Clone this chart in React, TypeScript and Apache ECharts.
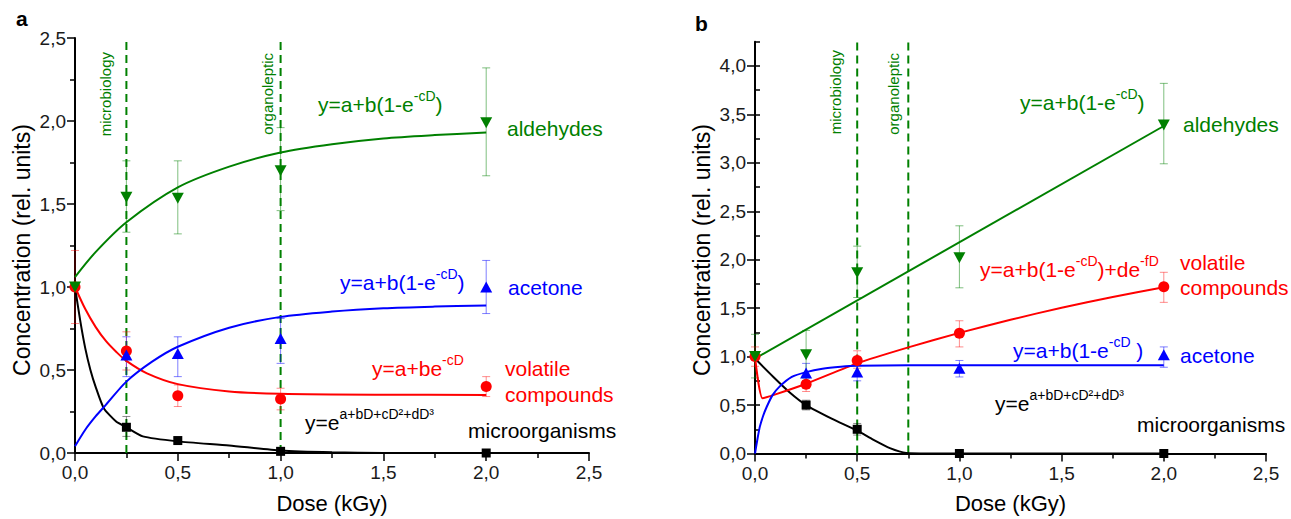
import React, { useEffect, useRef } from 'react';
import * as echarts from 'echarts';

const FONT = '"Liberation Sans", Arial, Helvetica, sans-serif';
const GREEN = '#008000';
const BLUE = '#0000ff';
const RED = '#ff0000';
const BLACK = '#000000';

// ---- shared ----
const DOSES = [0, 0.25, 0.5, 1.0, 2.0];
const Y_TICKS_B = [0, 0.5, 1.0, 1.5, 2.0, 2.5, 3.0, 3.5, 4.0];
const A_THRESH = [0.25, 1.0];
const B_THRESH = [0.5, 0.75];

// ---- panel a : measured points ----
const A_ALD = [1.0, 1.54, 1.535, 1.7, 1.99];
const A_ALD_LO = [1.0, 1.33, 1.32, 1.46, 1.67];
const A_ALD_HI = [1.0, 1.76, 1.76, 1.96, 2.32];
const A_ACE = [null, 0.59, 0.6, 0.69, 1.0];
const A_ACE_LO = [1.0, 0.46, 0.46, 0.54, 0.84];
const A_ACE_HI = [1.0, 0.7, 0.7, 0.81, 1.16];
const A_VOL = [1.0, 0.615, 0.345, 0.325, 0.4];
const A_VOL_LO = [0.78, 0.5, 0.28, 0.26, 0.34];
const A_VOL_HI = [1.22, 0.73, 0.41, 0.39, 0.46];
const A_MIC = [null, 0.155, 0.075, 0.01, 0.0];
const A_MIC_LO = [1.0, 0.1, 0.06, 0.0, 0.0];
const A_MIC_HI = [1.0, 0.22, 0.09, 0.02, 0.0];

// ---- panel a : fitted curves ----
const A_ALD_FIT_X = [0, 0.1, 0.25, 0.5, 0.75, 1.0, 1.25, 1.5, 1.75, 2.0];
const A_ALD_FIT_Y = [1.06, 1.21, 1.39, 1.6, 1.725, 1.81, 1.86, 1.895, 1.915, 1.93];
const A_ACE_FIT_X = [0, 0.05, 0.1, 0.15, 0.25, 0.375, 0.5, 0.75, 1.0, 1.25, 1.5, 1.75, 2.0];
const A_ACE_FIT_Y = [0.04, 0.14, 0.22, 0.29, 0.43, 0.55, 0.64, 0.755, 0.82, 0.852, 0.872, 0.882, 0.888];
const A_VOL_FIT_X = [0, 0.05, 0.1, 0.15, 0.2, 0.25, 0.35, 0.5, 0.75, 1.0, 1.5, 2.0];
const A_VOL_FIT_Y = [1.0, 0.867, 0.76, 0.675, 0.61, 0.555, 0.48, 0.415, 0.371, 0.357, 0.351, 0.35];
const A_MIC_FIT_X = [0, 0.025, 0.05, 0.075, 0.1, 0.14, 0.2, 0.25, 0.33, 0.5, 0.75, 1.0, 1.25, 1.5, 2.0];
const A_MIC_FIT_Y = [1.0, 0.8, 0.63, 0.5, 0.4, 0.27, 0.19, 0.155, 0.1, 0.07, 0.045, 0.015, 0.004, 0.0, 0.0];

// ---- panel b : measured points ----
const B_ALD = [1.0, 1.02, 1.865, 2.02, 3.39];
const B_ALD_LO = [0.78, 0.78, 1.61, 1.71, 2.99];
const B_ALD_HI = [1.23, 1.27, 2.14, 2.35, 3.82];
const B_ACE = [null, 0.83, 0.84, 0.88, 1.02];
const B_ACE_LO = [1.0, 0.75, 0.75, 0.79, 0.89];
const B_ACE_HI = [1.0, 0.93, 0.92, 0.96, 1.1];
const B_VOL = [1.0, 0.715, 0.96, 1.24, 1.72];
const B_VOL_LO = [0.9, 0.64, 0.88, 1.1, 1.56];
const B_VOL_HI = [1.1, 0.79, 1.06, 1.37, 1.87];
const B_MIC = [null, 0.5, 0.25, 0.0, 0.0];
const B_MIC_LO = [1.0, 0.45, 0.19, 0.0, 0.0];
const B_MIC_HI = [1.0, 0.55, 0.31, 0.0, 0.0];

// ---- panel b : fitted curves ----
const B_ALD_FIT_X = [0, 2.0];
const B_ALD_FIT_Y = [0.98, 3.38];
const B_VOL_FIT_X = [0, 0.037, 0.1, 0.25, 0.5, 0.75, 1.0, 1.25, 1.5, 1.75, 2.0];
const B_VOL_FIT_Y = [1.0, 0.57, 0.61, 0.72, 0.93, 1.095, 1.245, 1.38, 1.505, 1.615, 1.715];
const B_ACE_FIT_X = [0, 0.012, 0.024, 0.04, 0.057, 0.085, 0.12, 0.18, 0.25, 0.33, 0.42, 0.5, 0.75, 1.0, 1.5, 2.0];
const B_ACE_FIT_Y = [0.0, 0.15, 0.28, 0.39, 0.48, 0.6, 0.69, 0.79, 0.84, 0.875, 0.895, 0.905, 0.91, 0.91, 0.91, 0.91];
const B_MIC_FIT_X = [0, 0.09, 0.17, 0.25, 0.375, 0.5, 0.58, 0.66, 0.74, 0.85, 1.0, 1.5, 2.0];
const B_MIC_FIT_Y = [0.98, 0.79, 0.63, 0.5, 0.36, 0.235, 0.14, 0.055, 0.005, 0.0, 0.0, 0.0, 0.0];

const zip = (xs: number[], ys: any[]) => xs.map((x, i) => [x, ys[i]]);

function fitLine(xs: number[], ys: number[], color: string, xi: number, yi: number, smooth: number | false = 0.3) {
  return {
    type: 'line', xAxisIndex: xi, yAxisIndex: yi, data: zip(xs, ys),
    symbol: 'none', showSymbol: false, smooth,
    lineStyle: { color, width: 2 }, z: 3, silent: true,
  };
}

function markers(ys: any[], color: string, symbol: string, size: any, rotate: number, xi: number, yi: number, z: number) {
  return {
    type: 'scatter', xAxisIndex: xi, yAxisIndex: yi,
    data: zip(DOSES, ys).filter((d) => d[1] !== null),
    symbol, symbolSize: size, symbolRotate: rotate, itemStyle: { color, opacity: 1 }, z, silent: true,
  };
}

function errBars(lo: number[], hi: number[], color: string, xi: number, yi: number) {
  const data = DOSES.map((x, i) => [x, lo[i], hi[i]]).filter((d) => d[2] > d[1]);
  return {
    type: 'custom', xAxisIndex: xi, yAxisIndex: yi, data, encode: { x: 0, y: [1, 2] }, z: 2, silent: true,
    renderItem: (_p: any, api: any) => {
      const x = api.value(0);
      const t = api.coord([x, api.value(2)]);
      const b = api.coord([x, api.value(1)]);
      const w = 4;
      const style = { stroke: color, lineWidth: 1 };
      return {
        type: 'group', children: [
          { type: 'line', shape: { x1: t[0], y1: t[1], x2: b[0], y2: b[1] }, style },
          { type: 'line', shape: { x1: t[0] - w, y1: t[1], x2: t[0] + w, y2: t[1] }, style },
          { type: 'line', shape: { x1: b[0] - w, y1: b[1], x2: b[0] + w, y2: b[1] }, style },
        ],
      };
    },
  };
}

function thresh(x: number, top: number, xi: number, yi: number) {
  return {
    type: 'line', xAxisIndex: xi, yAxisIndex: yi, data: [[x, 0], [x, top]], symbol: 'none',
    lineStyle: { color: GREEN, width: 2, type: [8, 5] }, z: 1, silent: true,
  };
}

function eq(x: number, y: number, color: string, parts: Array<[string, boolean]>) {
  const rich = {
    n: { fontSize: 21, fontFamily: FONT, fill: color, verticalAlign: 'bottom', lineHeight: 26 },
    s: { fontSize: 14, fontFamily: FONT, fill: color, verticalAlign: 'top', lineHeight: 12 },
  };
  const text = parts.map(([t, sup]) => `{${sup ? 's' : 'n'}|${t}}`).join('');
  return {
    type: 'text', x, y, z: 100, silent: true,
    style: { text, rich, fill: color, font: `21px ${FONT}`, align: 'left', verticalAlign: 'middle' },
  };
}

function label(x: number, y: number, text: string, color: string, size = 21, weight = 'normal', align = 'left') {
  return {
    type: 'text', x, y, z: 100, silent: true,
    style: { text, fill: color, font: `${weight} ${size}px ${FONT}`, align, verticalAlign: 'middle' },
  };
}

function vlabel(x: number, y: number, text: string, color: string, size: number, align = 'right') {
  return {
    type: 'text', x, y, rotation: Math.PI / 2, z: 100, silent: true,
    style: { text, fill: color, font: `${size}px ${FONT}`, align, verticalAlign: 'middle' },
  };
}

const fmt = (v: number) => v.toFixed(1).replace('.', ',');

const axisLine = { show: true, onZero: false, lineStyle: { color: '#000', width: 2 } };
const axisTick = { show: true, inside: false, length: 8, lineStyle: { color: '#000', width: 1.5 } };
const minorTick = { show: true, splitNumber: 2, length: 5, lineStyle: { color: '#000', width: 1.5 } };
const labelBase = { color: '#1a1a1a', fontSize: 19, fontFamily: FONT, formatter: fmt };

const SYM_TRI = [12, 11];

const option: any = {
  animation: false,
  textStyle: { fontFamily: FONT },
  grid: [
    { left: 75, top: 38, width: 514, height: 415 },
    { left: 755, top: 41.7, width: 511, height: 411.8 },
  ],
  xAxis: [
    { gridIndex: 0, type: 'value', min: 0, max: 2.5, interval: 0.5, axisLine, axisTick, minorTick, splitLine: { show: false }, axisLabel: { ...labelBase, margin: 10 } },
    { gridIndex: 1, type: 'value', min: 0, max: 2.5, interval: 0.5, axisLine, axisTick, minorTick, splitLine: { show: false }, axisLabel: { ...labelBase, margin: 10 } },
  ],
  yAxis: [
    { gridIndex: 0, type: 'value', min: 0, max: 2.5, interval: 0.5, axisLine, axisTick, minorTick, splitLine: { show: false }, axisLabel: { ...labelBase, margin: 9 } },
    {
      gridIndex: 1, type: 'value', min: 0, max: 4.25, interval: 0.5, axisLine,
      axisTick: { ...axisTick, customValues: Y_TICKS_B },
      minorTick: { show: false }, splitLine: { show: false },
      axisLabel: { ...labelBase, margin: 9, customValues: Y_TICKS_B, formatter: (v: number) => (Math.abs(v * 2 - Math.round(v * 2)) < 1e-6 && v <= 4 ? fmt(v) : '') },
    },
    {
      gridIndex: 1, type: 'value', min: 0, max: 4.25, interval: 0.25,
      axisLine: { show: false }, axisTick: { show: true, inside: false, length: 5, lineStyle: { color: '#000', width: 1.5 } },
      axisLabel: { show: false }, splitLine: { show: false },
    },
  ],
  series: [
    // panel a
    thresh(A_THRESH[0], 2.48, 0, 0),
    thresh(A_THRESH[1], 2.48, 0, 0),
    errBars(A_MIC_LO, A_MIC_HI, 'rgba(0,0,0,0.45)', 0, 0),
    errBars(A_VOL_LO, A_VOL_HI, 'rgba(255,0,0,0.45)', 0, 0),
    errBars(A_ACE_LO, A_ACE_HI, 'rgba(0,0,255,0.5)', 0, 0),
    errBars(A_ALD_LO, A_ALD_HI, 'rgba(0,128,0,0.5)', 0, 0),
    fitLine(A_MIC_FIT_X, A_MIC_FIT_Y, BLACK, 0, 0, 0.2),
    fitLine(A_VOL_FIT_X, A_VOL_FIT_Y, RED, 0, 0),
    fitLine(A_ACE_FIT_X, A_ACE_FIT_Y, BLUE, 0, 0),
    fitLine(A_ALD_FIT_X, A_ALD_FIT_Y, GREEN, 0, 0),
    markers(A_MIC, BLACK, 'rect', 9, 0, 0, 0, 5),
    markers(A_VOL, RED, 'circle', 11, 0, 0, 0, 6),
    markers(A_ACE, BLUE, 'triangle', SYM_TRI, 0, 0, 0, 7),
    markers(A_ALD, GREEN, 'triangle', SYM_TRI, 180, 0, 0, 8),
    // panel b
    thresh(B_THRESH[0], 4.25, 1, 1),
    thresh(B_THRESH[1], 4.25, 1, 1),
    errBars(B_MIC_LO, B_MIC_HI, 'rgba(0,0,0,0.45)', 1, 1),
    errBars(B_VOL_LO, B_VOL_HI, 'rgba(255,0,0,0.45)', 1, 1),
    errBars(B_ACE_LO, B_ACE_HI, 'rgba(0,0,255,0.5)', 1, 1),
    errBars(B_ALD_LO, B_ALD_HI, 'rgba(0,128,0,0.5)', 1, 1),
    fitLine(B_MIC_FIT_X, B_MIC_FIT_Y, BLACK, 1, 1, 0.2),
    fitLine(B_VOL_FIT_X, B_VOL_FIT_Y, RED, 1, 1, 0.2),
    fitLine(B_ACE_FIT_X, B_ACE_FIT_Y, BLUE, 1, 1, 0.2),
    fitLine(B_ALD_FIT_X, B_ALD_FIT_Y, GREEN, 1, 1, false),
    markers(B_MIC, BLACK, 'rect', 9, 0, 1, 1, 5),
    markers(B_VOL, RED, 'circle', 11, 0, 1, 1, 6),
    markers(B_ACE, BLUE, 'triangle', SYM_TRI, 0, 1, 1, 7),
    markers(B_ALD, GREEN, 'triangle', SYM_TRI, 180, 1, 1, 8),
  ],
  graphic: [
    label(16, 18, 'a', '#000', 21, 'bold'),
    label(695, 23, 'b', '#000', 21, 'bold'),
    vlabel(22, 250, 'Concentration (rel. units)', '#000', 23, 'center'),
    vlabel(702, 250, 'Concentration (rel. units)', '#000', 23, 'center'),
    label(332, 503, 'Dose (kGy)', '#000', 22, 'normal', 'center'),
    label(1010.5, 503, 'Dose (kGy)', '#000', 22, 'normal', 'center'),
    vlabel(105, 52, 'microbiology', GREEN, 15),
    vlabel(267, 53, 'organoleptic', GREEN, 15),
    vlabel(835, 50, 'microbiology', GREEN, 15),
    vlabel(893, 53, 'organoleptic', GREEN, 15),
    // panel a annotations
    eq(318, 102, GREEN, [['y=a+b(1-e', false], ['-cD', true], [')', false]]),
    label(507, 128, 'aldehydes', GREEN),
    eq(340, 280, BLUE, [['y=a+b(1-e', false], ['-cD', true], [')', false]]),
    label(508, 287, 'acetone', BLUE),
    eq(372, 365.5, RED, [['y=a+be', false], ['-cD', true]]),
    label(505, 368.5, 'volatile', RED),
    label(505, 394, 'compounds', RED),
    eq(305, 420, BLACK, [['y=e', false], ['a+bD+cD²+dD³', true]]),
    label(468, 430, 'microorganisms', BLACK),
    // panel b annotations
    eq(1020, 100, GREEN, [['y=a+b(1-e', false], ['-cD', true], [')', false]]),
    label(1183, 124, 'aldehydes', GREEN),
    eq(980, 266.7, RED, [['y=a+b(1-e', false], ['-cD', true], [')+de', false], ['-fD', true]]),
    label(1180, 262, 'volatile', RED),
    label(1180, 287, 'compounds', RED),
    eq(1013, 348, BLUE, [['y=a+b(1-e', false], ['-cD', true], [' )', false]]),
    label(1180, 355.5, 'acetone', BLUE),
    eq(995, 400.5, BLACK, [['y=e', false], ['a+bD+cD²+dD³', true]]),
    label(1137, 424, 'microorganisms', BLACK),
  ],
};

export default function App() {
  const ref = useRef<HTMLDivElement>(null);
  useEffect(() => {
    document.body.style.margin = '0';
    const chart = echarts.init(ref.current as HTMLDivElement, undefined, { renderer: 'svg' });
    chart.setOption(option);
    return () => chart.dispose();
  }, []);
  return <div ref={ref} style={{ width: 1291, height: 519 }} />;
}
